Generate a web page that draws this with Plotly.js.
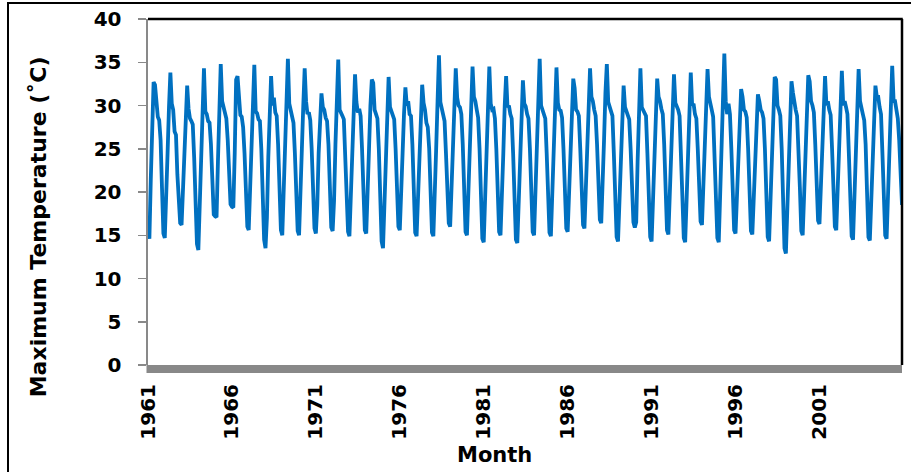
<!DOCTYPE html>
<html>
<head>
<meta charset="utf-8">
<script src="https://cdn.plot.ly/plotly-3.0.1.min.js"></script>
<style>
  html, body { margin: 0; padding: 0; overflow: hidden; background: #fff; }
  #wrap { position: relative; width: 911px; height: 472px; }
  #frame { position: absolute; left: 7px; top: 2px; width: 1000px; height: 1000px; border: 2px solid #000; pointer-events: none; z-index: 5; }
  #chart { position: absolute; left: 0; top: 0; width: 911px; height: 472px; }
</style>
</head>
<body>
<div id="wrap"><div id="chart"></div><div id="frame"></div></div>
<script>
// Monthly maximum temperature (°C), Jan..Dec
const years = [1961,1962,1963,1964,1965,1966,1967,1968,1969,1970,1971,1972,1973,1974,1975,1976,1977,1978,1979,1980,1981,1982,1983,1984,1985,1986,1987,1988,1989,1990,1991,1992,1993,1994,1995,1996,1997,1998,1999,2000,2001,2002,2003,2004,2005];
const temps1961 = [15.6, 14.6, 21.5, 28.0, 32.7, 32.4, 29.6, 28.7, 28.3, 26.0, 20.5, 15.2];
const temps1962 = [14.7, 18.8, 24.5, 29.8, 33.8, 30.2, 29.5, 27.0, 26.6, 22.0, 19.5, 16.4];
const temps1963 = [16.2, 20.4, 22.2, 28.5, 32.3, 29.6, 28.5, 28.2, 27.8, 24.0, 18.5, 14.0];
const temps1964 = [13.3, 18.5, 25.0, 30.5, 34.3, 29.3, 29.0, 28.2, 28.0, 25.5, 21.0, 17.4];
const temps1965 = [17.2, 17.1, 23.5, 29.5, 34.8, 30.5, 29.7, 29.2, 28.5, 26.0, 22.0, 18.6];
const temps1966 = [18.3, 18.2, 24.5, 33.0, 33.4, 30.0, 28.9, 28.7, 27.5, 24.5, 20.5, 16.0];
const temps1967 = [15.6, 20.3, 25.5, 30.5, 34.7, 29.3, 29.1, 28.4, 28.2, 25.0, 19.5, 14.5];
const temps1968 = [13.5, 17.0, 24.0, 29.5, 33.4, 30.0, 30.9, 29.2, 28.8, 25.5, 20.5, 15.6];
const temps1969 = [15.0, 19.5, 25.5, 30.5, 35.4, 30.2, 29.5, 29.0, 28.0, 24.5, 19.5, 15.5];
const temps1970 = [15.0, 19.0, 25.0, 30.0, 34.3, 30.5, 29.0, 29.2, 28.3, 25.0, 20.5, 15.8];
const temps1971 = [15.2, 18.5, 24.5, 29.0, 31.4, 29.8, 29.5, 28.6, 28.2, 25.5, 20.5, 15.9];
const temps1972 = [15.5, 19.0, 25.5, 30.5, 35.3, 29.5, 29.0, 28.8, 28.4, 24.5, 19.5, 15.4];
const temps1973 = [14.9, 19.5, 25.0, 30.0, 33.6, 30.4, 29.2, 29.6, 28.8, 25.0, 20.0, 15.6];
const temps1974 = [15.2, 19.0, 25.0, 30.0, 33.0, 32.6, 29.5, 29.0, 28.5, 25.0, 19.5, 14.3];
const temps1975 = [13.5, 18.5, 24.5, 29.5, 33.3, 29.8, 29.3, 28.8, 28.4, 25.0, 20.5, 16.0];
const temps1976 = [15.6, 19.0, 24.5, 29.0, 32.1, 30.0, 30.5, 29.0, 28.8, 25.5, 20.0, 15.3];
const temps1977 = [14.9, 19.5, 25.5, 29.5, 32.4, 30.3, 29.5, 28.0, 27.5, 25.0, 20.0, 15.3];
const temps1978 = [14.9, 19.0, 25.0, 30.5, 35.8, 30.4, 29.6, 29.0, 28.2, 24.5, 20.5, 16.4];
const temps1979 = [16.0, 20.5, 25.0, 29.5, 34.3, 30.9, 30.0, 29.8, 29.0, 25.5, 20.0, 15.4];
const temps1980 = [15.0, 19.5, 25.0, 30.0, 34.5, 31.0, 30.5, 29.5, 28.6, 25.0, 19.5, 14.6];
const temps1981 = [14.2, 19.0, 25.0, 30.5, 34.5, 30.2, 29.5, 29.6, 28.5, 25.0, 20.0, 15.4];
const temps1982 = [15.0, 19.0, 24.5, 30.0, 33.4, 29.8, 30.0, 29.0, 28.5, 24.5, 19.5, 14.5];
const temps1983 = [14.1, 18.5, 24.0, 29.5, 32.9, 30.2, 29.9, 29.0, 28.5, 25.0, 20.0, 15.4];
const temps1984 = [15.0, 19.5, 25.5, 31.0, 35.4, 30.0, 29.5, 29.2, 28.5, 24.5, 19.5, 15.3];
const temps1985 = [14.9, 19.5, 25.5, 31.0, 34.4, 30.3, 29.5, 29.4, 28.6, 25.0, 20.5, 15.8];
const temps1986 = [15.4, 19.5, 25.0, 30.0, 33.1, 32.0, 29.5, 29.3, 28.8, 25.0, 20.5, 16.2];
const temps1987 = [15.8, 20.0, 25.5, 30.5, 34.3, 31.0, 30.5, 29.5, 28.8, 25.5, 21.0, 16.8];
const temps1988 = [16.4, 20.5, 26.0, 31.5, 34.8, 30.4, 29.8, 29.5, 28.8, 24.5, 19.5, 14.8];
const temps1989 = [14.3, 19.0, 24.5, 29.5, 32.3, 29.8, 29.3, 29.0, 28.4, 25.0, 20.5, 16.5];
const temps1990 = [15.9, 16.5, 23.5, 30.0, 34.3, 29.8, 29.5, 29.3, 28.8, 24.5, 19.5, 14.8];
const temps1991 = [14.3, 19.5, 25.0, 30.0, 33.1, 31.0, 30.5, 29.6, 29.0, 25.5, 20.5, 15.6];
const temps1992 = [15.1, 19.5, 25.0, 30.0, 33.6, 30.3, 29.9, 29.5, 28.8, 25.0, 19.5, 14.7];
const temps1993 = [14.2, 19.0, 25.0, 30.0, 33.8, 30.0, 30.2, 29.0, 28.5, 25.0, 21.0, 16.6];
const temps1994 = [16.2, 20.5, 25.5, 30.5, 34.2, 31.0, 30.0, 29.5, 28.7, 24.5, 19.5, 14.7];
const temps1995 = [14.2, 19.5, 25.5, 31.0, 36.0, 30.5, 29.0, 30.2, 29.0, 25.0, 20.0, 15.6];
const temps1996 = [15.2, 19.5, 24.5, 29.0, 31.9, 31.0, 29.5, 29.3, 28.6, 25.0, 20.5, 15.5];
const temps1997 = [15.1, 19.0, 24.0, 28.5, 31.3, 30.5, 29.5, 29.2, 28.5, 25.0, 19.5, 14.8];
const temps1998 = [14.3, 19.5, 25.0, 30.0, 33.3, 33.0, 30.0, 29.5, 28.8, 25.0, 19.0, 13.5];
const temps1999 = [12.9, 18.5, 24.5, 29.5, 32.8, 31.5, 30.0, 29.5, 28.8, 25.5, 20.5, 15.5];
const temps2000 = [15.0, 19.5, 25.0, 30.0, 33.5, 32.8, 30.5, 30.0, 29.2, 25.5, 21.0, 16.7];
const temps2001 = [16.3, 20.5, 25.5, 30.0, 33.4, 30.0, 30.5, 29.5, 28.9, 25.0, 20.0, 16.0];
const temps2002 = [15.6, 20.0, 25.5, 30.5, 34.0, 30.0, 30.5, 29.8, 29.0, 24.5, 19.5, 14.9];
const temps2003 = [14.5, 19.5, 25.5, 30.5, 34.2, 30.5, 29.5, 29.0, 28.3, 25.5, 20.0, 14.8];
const temps2004 = [14.4, 19.0, 24.5, 29.5, 32.3, 31.0, 31.0, 29.8, 29.0, 24.5, 19.5, 15.0];
const temps2005 = [14.6, 19.5, 25.0, 30.5, 34.6, 30.5, 30.5, 29.5, 28.5, 26.0, 22.5, 18.5];

const yearlyTemps = [temps1961,temps1962,temps1963,temps1964,temps1965,temps1966,temps1967,temps1968,temps1969,temps1970,temps1971,temps1972,temps1973,temps1974,temps1975,temps1976,temps1977,temps1978,temps1979,temps1980,temps1981,temps1982,temps1983,temps1984,temps1985,temps1986,temps1987,temps1988,temps1989,temps1990,temps1991,temps1992,temps1993,temps1994,temps1995,temps1996,temps1997,temps1998,temps1999,temps2000,temps2001,temps2002,temps2003,temps2004,temps2005];
const tickYears = [1961, 1966, 1971, 1976, 1981, 1986, 1991, 1996, 2001];

const y = [].concat(...yearlyTemps);
const x = y.map((_, i) => i);
const tickvals = tickYears.map(yr => (yr - years[0]) * 12);
const ticktext = tickYears.map(String);

const FONT = "DejaVu Sans, Verdana, sans-serif";
const boldFont = (size) => ({ family: FONT, size: size, color: '#000', weight: 700 });

const trace = {
  x: x, y: y, type: 'scatter', mode: 'lines',
  line: { color: '#0070C0', width: 3.8 },
  hoverinfo: 'skip'
};

const layout = {
  width: 911, height: 472,
  margin: { l: 148, r: 9, t: 19, b: 107, pad: 0 },
  paper_bgcolor: '#fff', plot_bgcolor: '#fff',
  showlegend: false,
  xaxis: {
    range: [0, x.length - 1], tickvals: tickvals, ticktext: ticktext,
    tickangle: -90, ticks: '', showgrid: false, zeroline: false, showline: false,
    tickfont: boldFont(20), ticklabelstandoff: 14, fixedrange: true
  },
  yaxis: {
    range: [0, 40], dtick: 5, tick0: 0, showgrid: false, zeroline: false,
    showline: true, linecolor: '#898989', linewidth: 2.5,
    ticks: 'outside', ticklen: 8, tickwidth: 1.5, tickcolor: '#898989',
    tickfont: boldFont(20), ticklabelstandoff: 12, fixedrange: true
  },
  shapes: [
    { type: 'rect', xref: 'paper', yref: 'paper', ysizemode: 'pixel', yanchor: 0,
      x0: -0.002, x1: 1, y0: 0, y1: -8, fillcolor: '#888888', line: { width: 0 }, layer: 'above' },
    { type: 'line', xref: 'paper', yref: 'paper', x0: 0, x1: 1.001, y0: 1, y1: 1,
      line: { color: '#000', width: 2.5 } },
    { type: 'line', xref: 'paper', yref: 'paper', x0: 1, x1: 1, y0: 0, y1: 1,
      line: { color: '#000', width: 2.5 } }
  ],
  annotations: [
    { text: 'Maximum Temperature (˚C)', xref: 'paper', yref: 'paper',
      x: -0.145, y: 0.40, textangle: -90, showarrow: false,
      xanchor: 'center', yanchor: 'middle', font: boldFont(22) },
    { text: 'Month', xref: 'paper', yref: 'paper',
      x: 0.46, y: -0.26, showarrow: false,
      xanchor: 'center', yanchor: 'middle', font: boldFont(21) }
  ]
};

Plotly.newPlot('chart', [trace], layout, { staticPlot: true, displayModeBar: false });
</script>
</body>
</html>
